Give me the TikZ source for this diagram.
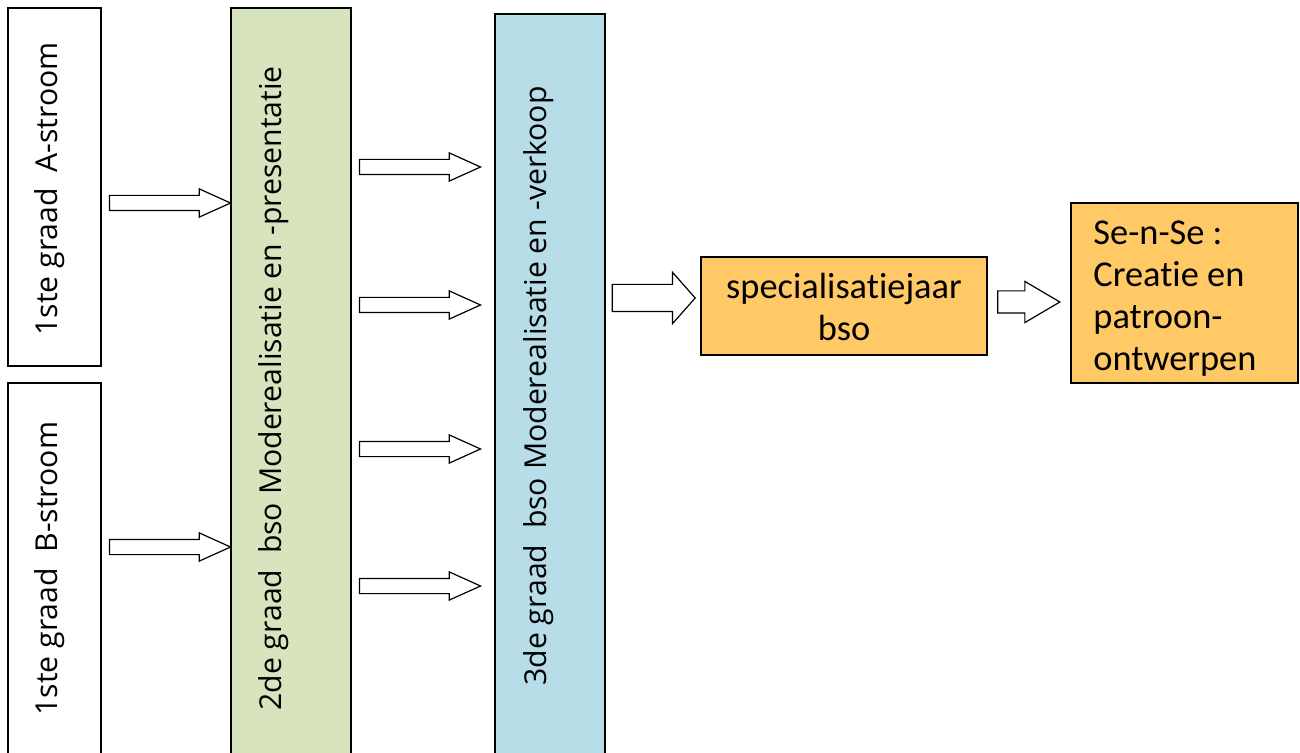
\documentclass[tikz,border=0pt]{standalone}
\usepackage{fontspec}
\setmainfont{Open Sans}
\newfontfamily\yfont[Ligatures=NoCommon]{Carlito}
\usetikzlibrary{shapes.arrows, fit}

\definecolor{greenfill}{HTML}{D7E4BD}
\definecolor{bluefill}{HTML}{B7DEE8}
\definecolor{yellowfill}{HTML}{FFC966}

\tikzset{
    box/.style={draw, line width=0.8pt, inner sep=0pt},
    vlabel/.style={rotate=90, anchor=base west, inner sep=0pt,
        font=\fontsize{15.1}{18}\selectfont},
    ylabel/.style={inner sep=0pt, font=\yfont\fontsize{18.2}{21}\selectfont},
    blockarr/.style={single arrow, draw, fill=white, line width=0.6pt, anchor=tip,
        inner xsep=0pt},
    smallarr/.style={blockarr, inner ysep=3.5pt, minimum height=60.5pt,
        single arrow head extend=3.25pt, single arrow tip angle=48.5},
}

\begin{document}
\begin{tikzpicture}[x=0.5pt, y=-0.5pt]
    \clip (0,0) rectangle (1300,753);
    \fill[white] (0,0) rectangle (1300,753);

    % boxes
    \node[box, fit={(8,8) (101,366)}] (stroomA) {};
    \node[box, fit={(8,383) (101,780)}] (stroomB) {};
    \node[box, fill=greenfill, fit={(231,8) (351,780)}] (graad2) {};
    \node[box, fill=bluefill, fit={(495,14) (605,780)}] (graad3) {};
    \node[box, fill=yellowfill, fit={(701,257) (987,355)}] (spec) {};
    \node[box, fill=yellowfill, fit={(1071,203) (1298,383)}] (sense) {};

    % texts
    \node[vlabel] (tA) at (57,336) {1ste graad\ \ A-stroom};
    \node[vlabel] (tB) at (57,716) {1ste graad\ \ B-stroom};
    \node[vlabel] (t2) at (281,711) {2de graad\ \ bso Moderealisatie en -presentatie};
    \node[vlabel] (t3) at (546,686) {3de graad\ \ bso Moderealisatie en -verkoop};
    \node[ylabel, align=center, anchor=north] (tspec) at (844,273) {specialisatiejaar\\bso};
    \node[ylabel, align=left, anchor=north west] (tsense) at (1093,220)
        {Se-n-Se :\\Creatie en\\patroon-\\ontwerpen};

    % arrows
    \node[smallarr] (arrA) at (232,203) {};
    \node[smallarr] (arrB) at (232,547) {};
    \foreach \y [count=\i] in {167,305,449,586}
        \node[smallarr] (arr\i) at (482,\y) {};
    \node[blockarr, inner ysep=6.5pt, minimum height=41.5pt,
        single arrow head extend=6pt, single arrow tip angle=97] (arrSpec) at (696,298) {};
    \node[blockarr, inner ysep=5.25pt, minimum height=31pt,
        single arrow head extend=4.75pt, single arrow tip angle=61] (arrSense) at (1061,302) {};
\end{tikzpicture}
\end{document}
